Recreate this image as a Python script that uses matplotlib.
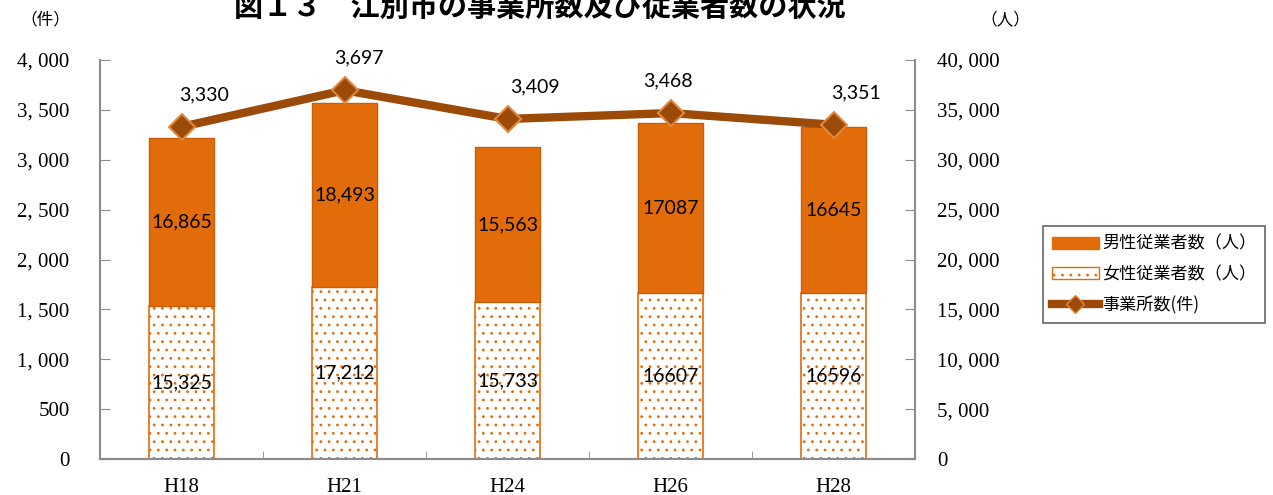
import matplotlib
matplotlib.use("Agg")
import matplotlib.pyplot as plt
from matplotlib.patches import Patch
from matplotlib.lines import Line2D
from matplotlib.ticker import FuncFormatter, MultipleLocator, FixedLocator

years = ["H18", "H21", "H24", "H26", "H28"]
male = [16865, 18493, 15563, 17087, 16645]
female = [15325, 17212, 15733, 16607, 16596]
offices = [3330, 3697, 3409, 3468, 3351]
male_labels = ["16,865", "18,493", "15,563", "17087", "16645"]
female_labels = ["15,325", "17,212", "15,733", "16607", "16596"]
office_labels = ["3,330", "3,697", "3,409", "3,468", "3,351"]
label_dx = [16, 10, 20, -2, 16]   # offsets of the line labels, points

ORANGE = "#E36C0A"
BROWN = "#9C4A08"
GRAY = "#8c8c8c"
CJK = ["Noto Sans CJK JP", "DejaVu Sans"]
SERIF = ["Liberation Serif", "DejaVu Serif"]
NUM = ["Lato", "DejaVu Sans"]

plt.rcParams.update({"hatch.color": "#F2AE78", "hatch.linewidth": 0.8})

fig = plt.figure(figsize=(12.73, 4.95), dpi=100)
ax = fig.add_axes([100/1273, 1-459/495, 815/1273, 399/495])
ax2 = ax.twinx()
ax.set_zorder(ax2.get_zorder() + 1)
ax.patch.set_visible(False)

x = list(range(len(years)))
w = 0.4
ax2.bar(x, female, w, color="white", edgecolor=ORANGE, hatch="..", linewidth=1.2, zorder=2)
ax2.bar(x, male, w, bottom=female, color=ORANGE, edgecolor="#C85E0A", linewidth=1, zorder=2)
for i in x:
    ax2.text(i, female[i] / 2, female_labels[i], ha="center", va="center",
             fontsize=14, family=NUM)
    ax2.text(i, female[i] + male[i] / 2, male_labels[i], ha="center", va="center",
             fontsize=14, family=NUM)

ax.plot(x, offices, color=BROWN, lw=6, marker="D", ms=13, mfc=BROWN,
        mec="#E0893E", mew=1.5, zorder=3)
for i in x:
    ax.annotate(office_labels[i], (i, offices[i]), xytext=(label_dx[i], 17),
                textcoords="offset points", ha="center", va="bottom",
                fontsize=14, family=NUM)

ax.set_xlim(-0.5, 4.5)
ax.set_ylim(0, 4000)
ax2.set_ylim(0, 40000)
ax.yaxis.set_major_locator(MultipleLocator(500))
ax2.yaxis.set_major_locator(MultipleLocator(5000))
fmt = FuncFormatter(lambda v, p: f"{int(v):,}".replace(",", ", "))
ax.yaxis.set_major_formatter(fmt)
ax2.yaxis.set_major_formatter(fmt)

ax.set_xticks(x)
ax.set_xticklabels(years)
ax.xaxis.set_minor_locator(FixedLocator([0.5, 1.5, 2.5, 3.5]))
ax.tick_params(axis="x", which="major", length=0, pad=14)
ax.tick_params(axis="x", which="minor", direction="in", length=6, color=GRAY)
ax.tick_params(axis="y", direction="in", length=7, color=GRAY, pad=22)
ax2.tick_params(axis="y", direction="in", length=7, color=GRAY, pad=16)
for lab in ax.get_xticklabels() + ax.get_yticklabels() + ax2.get_yticklabels():
    lab.set_family(SERIF)
    lab.set_fontsize(15)

for a in (ax, ax2):
    a.spines["top"].set_visible(False)
    for s in ("left", "right", "bottom"):
        a.spines[s].set_color(GRAY)
        a.spines[s].set_linewidth(1.5)
ax.spines["right"].set_visible(False)
ax2.spines["left"].set_visible(False)

fig.text(45/1273, 1-20/495, "（件）", family=CJK, fontsize=12, ha="center", va="center")
fig.text(1005/1273, 1-20/495, "（人）", family=CJK, fontsize=12, ha="center", va="center")
fig.text(540/1273, 1-7/495, "図１３　江別市の事業所数及び従業者数の状況", family=CJK,
         fontsize=21, fontweight="bold", ha="center", va="center")

handles = [Patch(facecolor=ORANGE, edgecolor=ORANGE),
           Patch(facecolor="white", edgecolor=ORANGE, hatch=".."),
           Line2D([], [], color=BROWN, lw=6, marker="D", ms=9, mfc=BROWN, mec="#E0893E")]
leg = fig.legend(handles, ["男性従業者数（人）", "女性従業者数（人）", "事業所数(件)"],
                 loc="upper left", bbox_to_anchor=(1043/1273, 1-226/495),
                 prop={"family": CJK, "size": 12.3}, frameon=True, fancybox=False,
                 handlelength=2.8, handletextpad=0.15, borderpad=0.5, labelspacing=0.75,
                 borderaxespad=0)
leg.get_frame().set_edgecolor("#404040")
leg.get_frame().set_linewidth(1.2)

fig.savefig("out.png", dpi=100, facecolor="white")
